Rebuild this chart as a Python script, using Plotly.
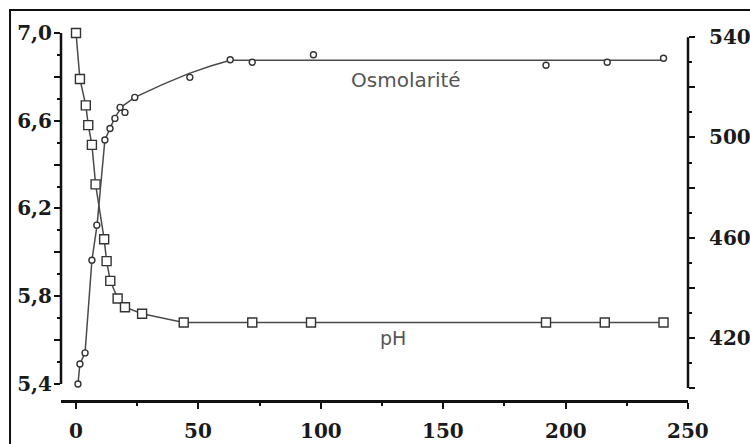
import plotly.graph_objects as go

# ---- data ----
ph_t = [0, 1.6, 4, 5, 6.5, 8, 11.5, 12.5, 14, 17, 20, 27, 44, 72, 96, 192, 216, 240]
ph_v = [7.0, 6.79, 6.67, 6.58, 6.49, 6.31, 6.06, 5.96, 5.87, 5.79, 5.75, 5.72,
        5.68, 5.68, 5.68, 5.68, 5.68, 5.68]

osm_t = [0.8, 1.6, 3.7, 6.5, 8.5, 11.8, 13.9, 15.9, 18, 20, 24, 46.5, 63, 72, 97, 192, 217, 240]
osm_v = [401.6, 409.6, 414, 451, 465, 499, 503.6, 507.6, 512, 510, 516, 524,
         531, 530, 533, 528.8, 530, 531.6]

# fitted osmolarity curve
osm_curve_t = [0.8, 1.6, 3.7, 6.5, 8.6, 11.8, 15.9, 19, 24, 35, 46, 55, 63, 100, 240]
osm_curve_v = [401.6, 409.6, 414, 451, 465, 499, 508, 512.5, 516, 521, 525.5, 528.5,
               530.8, 530.8, 530.8]

x_ticks = [0, 50, 100, 150, 200, 250]
x_ticktext = ["0", "50", "100", "150", "200", "250"]
ph_ticks = [5.4, 5.6, 5.8, 6.0, 6.2, 6.4, 6.6, 6.8, 7.0]
ph_ticktext = ["5,4", "", "5,8", "", "6,2", "", "6,6", "", "7,0"]
osm_ticks = [400, 420, 440, 460, 480, 500, 520, 540]
osm_ticktext = ["", "420", "", "460", "", "500", "", "540"]

line_col = "#4a4a4a"
tick_font = dict(family="DejaVu Serif", size=20, color="#1a1a1a", weight="bold")

fig = go.Figure()

fig.add_trace(go.Scatter(x=ph_t, y=ph_v, mode="lines", cliponaxis=False,
                         line=dict(color=line_col, width=1.5), yaxis="y",
                         hoverinfo="skip"))
fig.add_trace(go.Scatter(x=osm_curve_t, y=osm_curve_v, mode="lines", cliponaxis=False,
                         line=dict(color=line_col, width=1.5), yaxis="y2",
                         hoverinfo="skip"))
fig.add_trace(go.Scatter(x=ph_t, y=ph_v, mode="markers", yaxis="y", cliponaxis=False,
                         marker=dict(symbol="square", size=9, color="white",
                                     line=dict(color="#333", width=1.4))))
fig.add_trace(go.Scatter(x=osm_t, y=osm_v, mode="markers", yaxis="y2", cliponaxis=False,
                         marker=dict(symbol="circle", size=6, color="white",
                                     line=dict(color="#333", width=1.4))))

# x tick labels placed below the bottom axis
x_label_annotations = [
    dict(text=t, x=v, y=0, xref="x", yref="paper", showarrow=False,
         yanchor="middle", xanchor="center", yshift=-31, font=tick_font)
    for v, t in zip(x_ticks, x_ticktext)
]

fig.update_layout(
    width=750, height=444,
    margin=dict(l=61, r=62, t=33, b=44, autoexpand=False),
    paper_bgcolor="white", plot_bgcolor="white",
    showlegend=False,
    separators=",.",
    xaxis=dict(range=[-6.13, 250], anchor="y", automargin=False,
               showgrid=False, zeroline=False,
               showline=True, linewidth=2.5, linecolor="#111",
               tickmode="array", tickvals=x_ticks, showticklabels=False,
               ticks="outside", ticklen=6, tickwidth=2, tickcolor="#111",
               minor=dict(tickmode="linear", tick0=0, dtick=25, ticks="outside",
                          ticklen=3, tickwidth=2, tickcolor="#111")),
    yaxis=dict(range=[5.327, 7.0], domain=[0, 1], anchor="x", automargin=False,
               showgrid=False, zeroline=False, showline=False,
               tickmode="array", tickvals=ph_ticks, ticktext=ph_ticktext,
               ticks="outside", ticklen=6, tickwidth=2, tickcolor="#111",
               tickfont=tick_font, ticklabelstandoff=-2,
               minor=dict(tickmode="linear", tick0=5.4, dtick=0.1, ticks="outside",
                          ticklen=3, tickwidth=2, tickcolor="#111")),
    yaxis2=dict(range=[395.2, 541.7], overlaying="y", side="right", anchor="x",
                automargin=False,
                showgrid=False, zeroline=False, showline=False,
                tickmode="array", tickvals=osm_ticks, ticktext=osm_ticktext,
                ticks="outside", ticklen=6, tickwidth=2, tickcolor="#111",
                tickfont=tick_font, ticklabelstandoff=10,
                minor=dict(tickmode="linear", tick0=400, dtick=10, ticks="outside",
                           ticklen=3, tickwidth=2, tickcolor="#111")),
    shapes=[
        # outer frame
        dict(type="rect", xref="paper", yref="paper",
             x0=-0.0813, x1=1.2, y0=-0.3, y1=1.0627,
             line=dict(color="#111", width=2), fillcolor="rgba(0,0,0,0)", layer="above"),
        # left axis line
        dict(type="line", xref="paper", yref="y", x0=0, x1=0, y0=5.4, y1=7.0,
             line=dict(color="#111", width=2.5)),
        # right axis line
        dict(type="line", xref="paper", yref="y2", x0=1, x1=1, y0=400, y1=540,
             line=dict(color="#111", width=2.5)),
    ],
    annotations=[
        dict(text="Osmolarité", x=135, y=6.786, xref="x", yref="y", showarrow=False,
             font=dict(family="DejaVu Sans", size=20, color="#555")),
        dict(text="pH", x=129.5, y=5.61, xref="x", yref="y", showarrow=False,
             font=dict(family="DejaVu Sans", size=19, color="#555")),
    ] + x_label_annotations,
)

fig.write_html(
    "out.html",
    config={"displayModeBar": False},
    post_script=(
        "document.documentElement.style.margin='0';"
        "document.body.style.margin='0';"
        "document.body.style.overflow='hidden';"
        "Plotly.relayout('{plot_id}', {width: 750, height: 444});"
    ),
)
